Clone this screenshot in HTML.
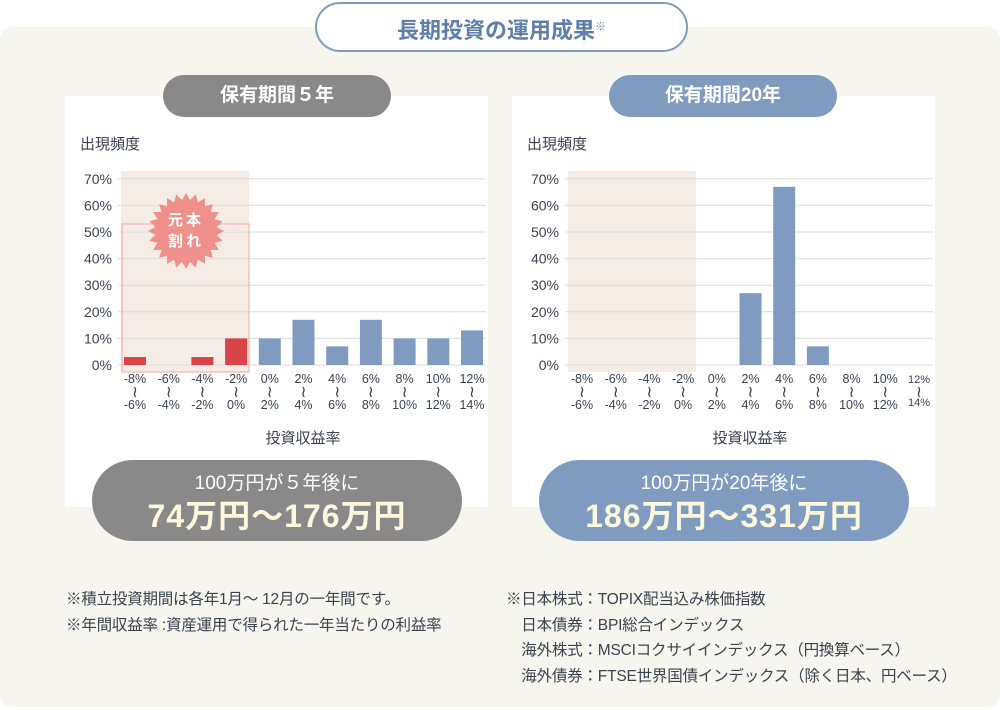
<!DOCTYPE html>
<html><head><meta charset="utf-8">
<style>
body{margin:0;width:1000px;height:710px;background:#fff;position:relative;overflow:hidden;font-family:"Liberation Sans","Noto Sans CJK JP",sans-serif;}
.abs{position:absolute}
.panel{left:0;top:27px;width:1000px;height:680px;background:#f6f5ee;border-radius:12px}
.title{left:315px;top:2px;width:369px;height:46px;border:2px solid #7f9cc0;border-radius:26px;background:#fff;color:#5f7fa8;font-size:22px;font-weight:bold;text-align:center;line-height:46px}
.title sup{font-size:11px;font-weight:normal;vertical-align:8px}
.card{top:96px;width:423px;height:411px;background:#fff}
.pill{top:75px;width:228px;height:42px;border-radius:21px;color:#fff;font-size:19px;font-weight:bold;text-align:center;line-height:42px}
.big{top:460px;width:370px;height:81px;border-radius:41px;text-align:center;color:#fff}
.big .s{font-size:19px;margin-top:12px;line-height:24px}
.big .l{font-size:32px;font-weight:bold;color:#fdf8dc;line-height:40px;letter-spacing:1px}
.note{font-size:15.5px;color:#3a4250;line-height:25.5px;white-space:pre;letter-spacing:-0.2px}
svg text{font-family:"Liberation Sans","Noto Sans CJK JP",sans-serif}
</style></head><body>
<div class="abs panel"></div>
<div class="abs title">長期投資の運用成果<sup>※</sup></div>
<div class="abs card" style="left:65px"></div>
<div class="abs card" style="left:512px"></div>
<svg class="abs" style="left:0;top:0" width="1000" height="710" id="sv">
<g id="g"></g>
</svg>
<div class="abs pill" style="left:163px;background:#898989">保有期間５年</div>
<div class="abs pill" style="left:609px;background:#7f9cc0">保有期間20年</div>
<div class="abs big" style="left:92px;background:#898989"><div class="s">100万円が５年後に</div><div class="l">74万円〜176万円</div></div>
<div class="abs big" style="left:539px;background:#7f9cc0"><div class="s">100万円が20年後に</div><div class="l">186万円〜331万円</div></div>
<div class="abs note" style="left:66px;top:587px">※積立投資期間は各年1月〜 12月の一年間です。
※年間収益率 :資産運用で得られた一年当たりの利益率</div>
<div class="abs note" style="left:506px;top:587px">※日本株式：TOPIX配当込み株価指数
　日本債券：BPI総合インデックス
　海外株式：MSCIコクサイインデックス（円換算ベース）
　海外債券：FTSE世界国債インデックス（除く日本、円ベース）</div>
<script>
var s='';
function chart(ox,vals,cols,star,lastSmall){
  s+='<rect x="'+(ox+121)+'" y="171" width="128" height="201" fill="#f5ece6"/>';
  for(var i=0;i<8;i++){var y=365-i*26.6;
    s+='<line x1="'+(ox+118)+'" x2="'+(ox+486)+'" y1="'+y+'" y2="'+y+'" stroke="#dcdcdc" stroke-width="1"/>';
    s+='<text x="'+(ox+112)+'" y="'+(y+5)+'" font-size="14" fill="#3a4250" text-anchor="end">'+(i*10)+'%</text>';}
  s+='<text x="'+(ox+80)+'" y="149" font-size="15" fill="#3a4250">出現頻度</text>';
  s+='<text x="'+(ox+303)+'" y="443" font-size="15" fill="#3a4250" text-anchor="middle">投資収益率</text>';
  var a=['-8%','-6%','-4%','-2%','0%','2%','4%','6%','8%','10%','12%'],b=['-6%','-4%','-2%','0%','2%','4%','6%','8%','10%','12%','14%'];
  for(var i=0;i<11;i++){var cx=ox+135+i*33.7,h=vals[i]*2.66;
    if(h>0)s+='<rect x="'+(cx-11)+'" y="'+(365-h)+'" width="22" height="'+h+'" fill="'+(i<4?'#d94448':'#7f9cc0')+'"/>';
    var fs=(lastSmall&&i==10)?11:12.5;
    s+='<text x="'+cx+'" y="383" font-size="'+fs+'" fill="#3a4250" text-anchor="middle">'+a[i]+'</text>';
    s+='<text x="'+cx+'" y="397" font-size="16" fill="#3a4250" text-anchor="middle">≀</text>';
    s+='<text x="'+cx+'" y="'+((lastSmall&&i==10)?406:409)+'" font-size="'+fs+'" fill="#3a4250" text-anchor="middle">'+b[i]+'</text>';}
  if(star){
    s+='<rect x="122" y="224" width="127" height="148" fill="none" stroke="#efa8a0" stroke-width="1"/>';
    var p=[],cx=186,cy=231;for(var k=0;k<48;k++){var r=k%2?31:38,t=k*Math.PI/24;p.push((cx+r*Math.cos(t)).toFixed(1)+','+(cy+r*Math.sin(t)).toFixed(1));}
    s+='<polygon points="'+p.join(' ')+'" fill="#f0908a"/>';
    s+='<text x="186" y="225" font-size="15" font-weight="bold" fill="#fff" text-anchor="middle" letter-spacing="3">元本</text>';
    s+='<text x="186" y="246" font-size="15" font-weight="bold" fill="#fff" text-anchor="middle" letter-spacing="3">割れ</text>';}
}
chart(0,[3,0,3,10,10,17,7,17,10,10,13],0,true,false);
chart(447,[0,0,0,0,0,27,67,7,0,0,0],0,false,true);
document.getElementById('g').innerHTML=s;
</script>
</body></html>
